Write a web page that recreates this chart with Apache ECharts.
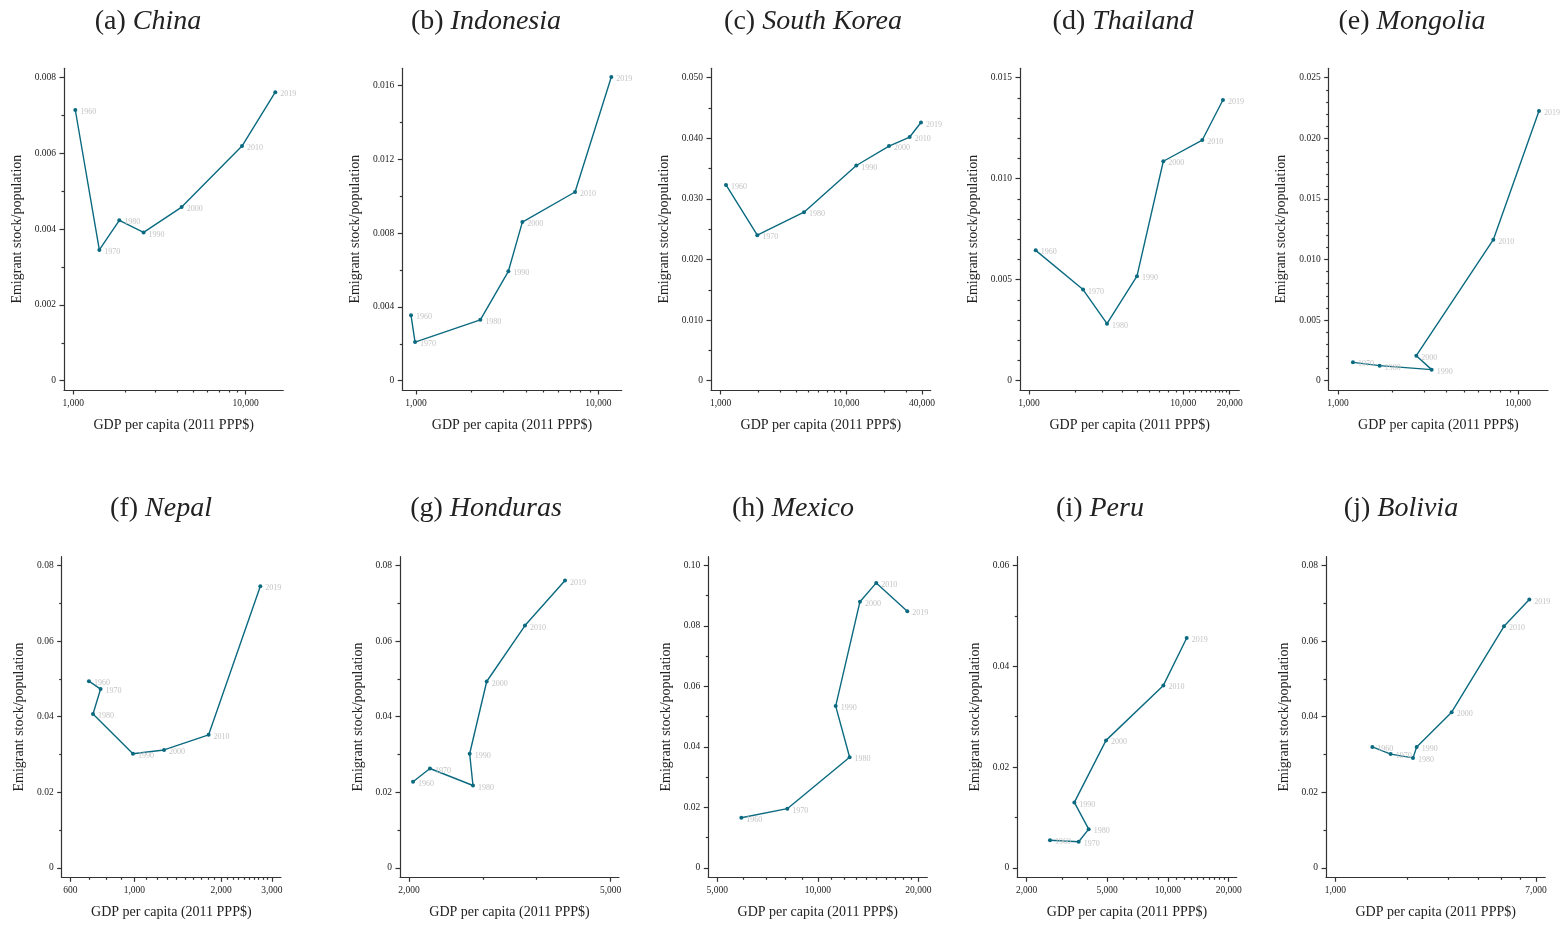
<!DOCTYPE html>
<html>
<head>
<meta charset="UTF-8" />
<title>Emigrant stock vs GDP per capita</title>
<script src="https://cdn.jsdelivr.net/npm/echarts@6/dist/echarts.min.js"></script>
<style>
  html, body { margin: 0; padding: 0; background: #fff; }
  #chart { width: 1562px; height: 925px; }
</style>
</head>
<body>
<div id="chart"></div>
<script>
// years shown next to each point
var years = ['1960', '1970', '1980', '1990', '2000', '2010', '2019'];
var yearsMongolia = ['1970', '1980', '1990', '2000', '2010', '2019'];

// GDP per capita (2011 PPP$) and emigrant stock / population
var chinaGdp = [1027, 1416, 1849, 2558, 4254, 9530, 14870];
var chinaShare = [0.00714, 0.00345, 0.00423, 0.00391, 0.00458, 0.00619, 0.00761];
var indonesiaGdp = [939, 988, 2253, 3210, 3830, 7450, 11780];
var indonesiaShare = [0.00354, 0.00209, 0.00330, 0.00593, 0.00860, 0.01023, 0.01647];
var koreaGdp = [1103, 1957, 4603, 12010, 21850, 31900, 39260];
var koreaShare = [0.0323, 0.0240, 0.0278, 0.0355, 0.0387, 0.0402, 0.0426];
var thailandGdp = [1105, 2239, 3202, 5009, 7421, 13280, 18070];
var thailandShare = [0.00645, 0.00451, 0.00282, 0.00517, 0.01086, 0.01191, 0.01389];
var mongoliaGdp = [1211, 1704, 3314, 2724, 7295, 13080];
var mongoliaShare = [0.00151, 0.00124, 0.00091, 0.00206, 0.01163, 0.02225];
var nepalGdp = [696, 764, 719, 989, 1268, 1810, 2735];
var nepalShare = [0.0494, 0.0473, 0.0407, 0.0302, 0.0312, 0.0352, 0.0745];
var hondurasGdp = [2037, 2200, 2675, 2635, 2847, 3388, 4064];
var hondurasShare = [0.0228, 0.0263, 0.0218, 0.0302, 0.0493, 0.0641, 0.0760];
var mexicoGdp = [5900, 8101, 12450, 11310, 13370, 14960, 18530];
var mexicoShare = [0.0166, 0.0196, 0.0366, 0.0535, 0.0880, 0.0942, 0.0848];
var peruGdp = [2609, 3618, 4055, 3444, 4941, 9498, 12390];
var peruShare = [0.0055, 0.0052, 0.0077, 0.0130, 0.0253, 0.0362, 0.0456];
var boliviaGdp = [1432, 1710, 2124, 2201, 3090, 5133, 6564];
var boliviaShare = [0.0320, 0.0301, 0.0291, 0.0320, 0.0412, 0.0639, 0.0710];

// tick values
var xTicksA = [1000, 10000];
var xMinorA = [2000, 3000, 4000, 5000, 6000, 7000, 8000, 9000];
var xTicksC = [1000, 10000, 40000];
var xMinorC = [2000, 3000, 4000, 5000, 6000, 7000, 8000, 9000, 20000, 30000];
var xTicksD = [1000, 10000, 20000];
var xMinorD = [2000, 3000, 4000, 5000, 6000, 7000, 8000, 9000,
  11000, 12000, 13000, 14000, 15000, 16000, 17000, 18000, 19000];
var xTicksF = [600, 1000, 2000, 3000];
var xMinorF = [700, 800, 900, 1100, 1200, 1300, 1400, 1500, 1600, 1700, 1800, 1900,
  2100, 2200, 2300, 2400, 2500, 2600, 2700, 2800, 2900];
var xTicksG = [2000, 5000];
var xMinorG = [2800, 3560];
var xTicksH = [5000, 10000, 20000];
var xMinorH = [6000, 7000, 8000, 9000, 11000, 12000, 13000, 14000, 15000, 16000, 17000, 18000, 19000];
var xTicksI = [2000, 5000, 10000, 20000];
var xMinorI = [3000, 4000, 6000, 7000, 8000, 9000,
  11000, 12000, 13000, 14000, 15000, 16000, 17000, 18000, 19000];
var xTicksJ = [1000, 7000];
var xMinorJ = [2000, 3000, 4000, 5000, 6000];

var yTicksA = [0, 0.002, 0.004, 0.006, 0.008];
var yTicksB = [0, 0.004, 0.008, 0.012, 0.016];
var yTicksC = [0, 0.010, 0.020, 0.030, 0.040, 0.050];
var yTicksD = [0, 0.005, 0.010, 0.015];
var yTicksE = [0, 0.005, 0.010, 0.015, 0.020, 0.025];
var yTicks08 = [0, 0.02, 0.04, 0.06, 0.08];
var yTicksH = [0, 0.02, 0.04, 0.06, 0.08, 0.10];
var yTicksI = [0, 0.02, 0.04, 0.06];

var panels = [
  { letter: 'a', name: 'China', gdp: chinaGdp, share: chinaShare, yrs: years,
    xr: [883, 16550], yr: [-0.000246, 0.00824], xt: xTicksA, xm: xMinorA, yt: yTicksA, ym: 0.001, dec: 3,
    box: [64, 68.3, 219.3, 321.7], tx: 143, ty: 3 },
  { letter: 'b', name: 'Indonesia', gdp: indonesiaGdp, share: indonesiaShare, yrs: years,
    xr: [841, 13430], yr: [-0.000508, 0.01694], xt: xTicksA, xm: xMinorA, yt: yTicksB, ym: 0.002, dec: 3,
    box: [402.3, 68.3, 219.4, 321.7], tx: 481, ty: 3 },
  { letter: 'c', name: 'South Korea', gdp: koreaGdp, share: koreaShare, yrs: years,
    xr: [838, 46900], yr: [-0.00154, 0.05154], xt: xTicksC, xm: xMinorC, yt: yTicksC, ym: 0.005, dec: 3,
    box: [711, 68.3, 219.7, 321.7], tx: 808, ty: 3 },
  { letter: 'd', name: 'Thailand', gdp: thailandGdp, share: thailandShare, yrs: years,
    xr: [874, 23070], yr: [-0.000462, 0.01546], xt: xTicksD, xm: xMinorD, yt: yTicksD, ym: 0.001, dec: 3,
    box: [1020, 68.3, 219.3, 321.7], tx: 1118, ty: 3 },
  { letter: 'e', name: 'Mongolia', gdp: mongoliaGdp, share: mongoliaShare, yrs: yearsMongolia,
    xr: [888, 14680], yr: [-0.00077, 0.02577], xt: xTicksA, xm: xMinorA, yt: yTicksE, ym: 0.001, dec: 3,
    box: [1328.7, 68.3, 219.3, 321.7], tx: 1407, ty: 3 },
  { letter: 'f', name: 'Nepal', gdp: nepalGdp, share: nepalShare, yrs: years,
    xr: [560, 3226], yr: [-0.00247, 0.0823], xt: xTicksF, xm: xMinorF, yt: yTicks08, ym: 0.01, dec: 2,
    box: [61.7, 556.7, 219.3, 320.6], tx: 156, ty: 490 },
  { letter: 'g', name: 'Honduras', gdp: hondurasGdp, share: hondurasShare, yrs: years,
    xr: [1920, 5194], yr: [-0.00247, 0.0823], xt: xTicksG, xm: xMinorG, yt: yTicks08, ym: 0.01, dec: 2,
    box: [400, 556.7, 219, 320.6], tx: 481, ty: 490 },
  { letter: 'h', name: 'Mexico', gdp: mexicoGdp, share: mexicoShare, yrs: years,
    xr: [4699, 21270], yr: [-0.00308, 0.10286], xt: xTicksH, xm: xMinorH, yt: yTicksH, ym: 0.01, dec: 2,
    box: [708.3, 556.7, 219, 320.6], tx: 788, ty: 490 },
  { letter: 'i', name: 'Peru', gdp: peruGdp, share: peruShare, yrs: years,
    xr: [1798, 21900], yr: [-0.00185, 0.06172], xt: xTicksI, xm: xMinorI, yt: yTicksI, ym: 0.01, dec: 2,
    box: [1017.3, 556.7, 219.4, 320.6], tx: 1095, ty: 490 },
  { letter: 'j', name: 'Bolivia', gdp: boliviaGdp, share: boliviaShare, yrs: years,
    xr: [913.5, 7663], yr: [-0.00247, 0.0823], xt: xTicksJ, xm: xMinorJ, yt: yTicks08, ym: 0.01, dec: 2,
    box: [1326, 556.7, 219.3, 320.6], tx: 1396, ty: 490 }
];

var SERIF = 'Liberation Serif';
var INK = '#333';
var TEAL = '#0b6a80';

function minorY(p) {
  var out = [];
  var top = p.yt[p.yt.length - 1];
  var n = Math.round(top / p.ym);
  for (var k = 0; k <= n; k++) {
    var v = +(k * p.ym).toFixed(6);
    if (p.yt.indexOf(v) < 0) out.push(v);
  }
  return out;
}

var option = {
  animation: false,
  backgroundColor: '#fff',
  title: [], grid: [], xAxis: [], yAxis: [], series: []
};

panels.forEach(function (p, i) {
  var top = i < 5;
  option.title.push({
    text: '(' + p.letter + ') {i|' + p.name + '}',
    left: p.tx, top: p.ty, textAlign: 'center',
    textStyle: {
      fontFamily: SERIF, fontSize: 28, fontWeight: 'normal', color: '#222',
      rich: { i: { fontFamily: SERIF, fontSize: 28, fontStyle: 'italic', color: '#222' } }
    }
  });
  option.grid.push({
    left: p.box[0], top: p.box[1], width: p.box[2], height: p.box[3],
    containLabel: false, outerBoundsMode: 'none'
  });
  var lineStyle = { color: INK, width: 1.2 };
  // main x axis (labels + major ticks)
  option.xAxis.push({
    type: 'log', logBase: 10, gridIndex: i, position: 'bottom',
    min: p.xr[0], max: p.xr[1],
    name: 'GDP per capita (2011 PPP$)', nameLocation: 'middle', nameGap: 28,
    nameTextStyle: { fontFamily: SERIF, fontSize: 14, color: '#222' },
    axisLine: { show: true, onZero: false, lineStyle: lineStyle },
    axisTick: { show: true, length: 4.5, customValues: p.xt, lineStyle: lineStyle },
    axisLabel: {
      customValues: p.xt, margin: 8, fontFamily: SERIF, fontSize: 9.5, color: '#222',
      formatter: function (v) { return Math.round(v).toLocaleString('en-US'); }
    },
    splitLine: { show: false }, minorTick: { show: false }
  });
  // minor x ticks
  option.xAxis.push({
    type: 'log', logBase: 10, gridIndex: i, position: 'bottom',
    min: p.xr[0], max: p.xr[1],
    axisLine: { show: false, onZero: false },
    axisTick: { show: true, length: 2.5, customValues: p.xm, lineStyle: lineStyle },
    axisLabel: { show: false },
    splitLine: { show: false }
  });
  option.yAxis.push({
    type: 'value', gridIndex: i, position: 'left',
    min: p.yr[0], max: p.yr[1],
    name: 'Emigrant stock/population', nameLocation: 'middle', nameRotate: 90,
    nameGap: top ? 40 : 35,
    nameTextStyle: { fontFamily: SERIF, fontSize: 14, color: '#222' },
    axisLine: { show: true, onZero: false, lineStyle: lineStyle },
    axisTick: { show: true, length: 4.5, customValues: p.yt, lineStyle: lineStyle },
    axisLabel: {
      customValues: p.yt, margin: 8, fontFamily: SERIF, fontSize: 9.5, color: '#222',
      formatter: function (v) { return Math.abs(v) < 1e-9 ? '0' : v.toFixed(p.dec); }
    },
    splitLine: { show: false }
  });
  option.yAxis.push({
    type: 'value', gridIndex: i, position: 'left',
    min: p.yr[0], max: p.yr[1],
    axisLine: { show: false, onZero: false },
    axisTick: { show: true, length: 2.5, customValues: minorY(p), lineStyle: lineStyle },
    axisLabel: { show: false },
    splitLine: { show: false }
  });
  option.series.push({
    type: 'line',
    xAxisIndex: 2 * i, yAxisIndex: 2 * i,
    data: p.gdp.map(function (g, k) { return [g, p.share[k]]; }),
    symbol: 'circle', symbolSize: 4,
    itemStyle: { color: TEAL },
    lineStyle: { color: TEAL, width: 1.4 },
    label: {
      show: true, position: 'right', distance: 3, offset: [0, 2],
      fontFamily: SERIF, fontSize: 8, color: '#c4c4c4',
      formatter: function (prm) { return p.yrs[prm.dataIndex]; }
    },
    emphasis: { disabled: true },
    z: 3
  });
});

var chart = echarts.init(document.getElementById('chart'), null, { renderer: 'canvas' });
chart.setOption(option);
</script>
</body>
</html>
